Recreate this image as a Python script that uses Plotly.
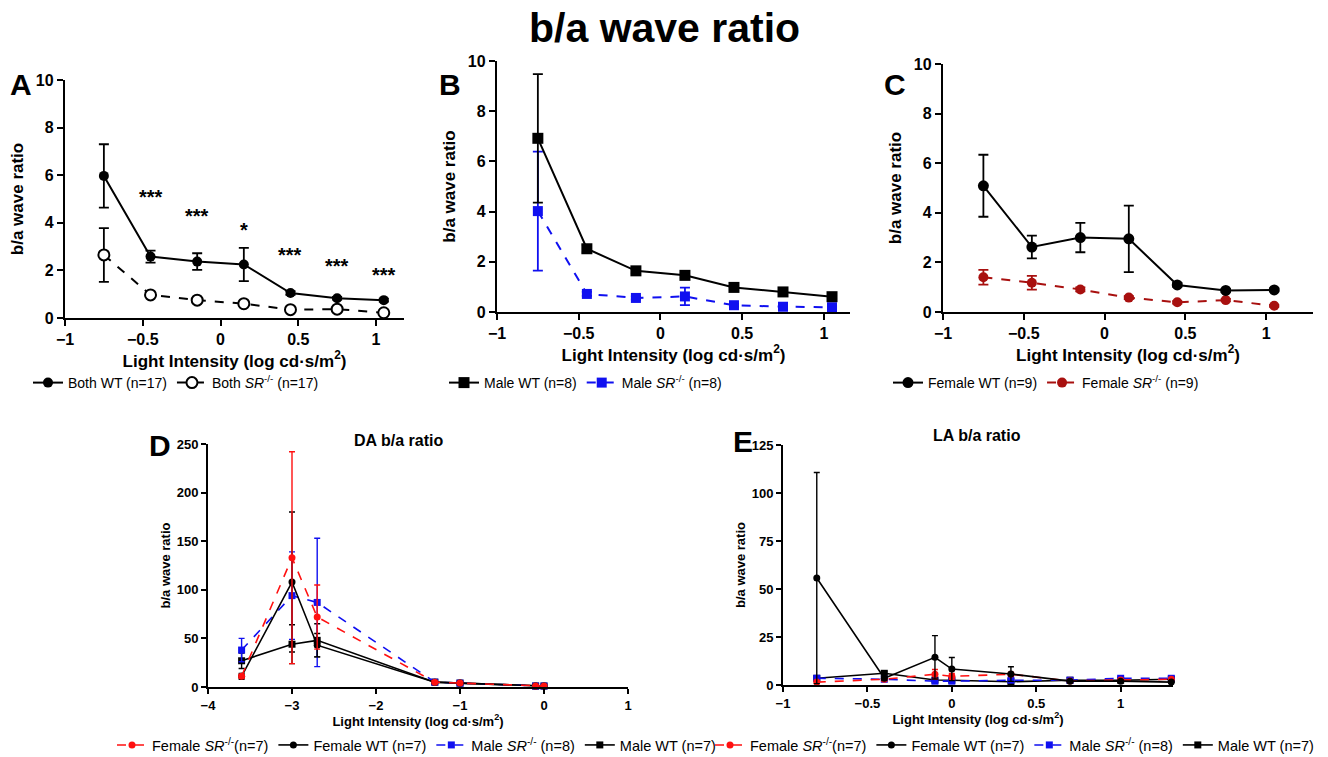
import plotly.graph_objects as go

W, H = 1328, 757
FONT = "Liberation Sans, Arial, sans-serif"

# ---------------- data ----------------
x_abc = [-0.75, -0.45, -0.15, 0.15, 0.45, 0.75, 1.05]

a_wt = [5.97, 2.58, 2.37, 2.25, 1.05, 0.83, 0.75]
a_wt_err = [1.33, 0.25, 0.35, 0.70, 0.08, 0.06, 0.06]
a_sr = [2.65, 0.97, 0.75, 0.60, 0.35, 0.37, 0.22]
a_sr_err = [1.13, 0.08, 0.06, 0.05, 0.05, 0.05, 0.04]
star_x = [-0.45, -0.15, 0.15, 0.45, 0.75, 1.05]
star_y = [5.1, 4.3, 3.7, 2.65, 2.2, 1.8]
star_txt = ["***", "***", "*", "***", "***", "***"]

b_wt = [6.92, 2.52, 1.64, 1.46, 0.98, 0.80, 0.61]
b_wt_err = [2.56, 0.15, 0.10, 0.10, 0.08, 0.07, 0.06]
b_sr = [4.02, 0.72, 0.56, 0.62, 0.27, 0.21, 0.19]
b_sr_err = [2.37, 0.08, 0.06, 0.35, 0.05, 0.04, 0.04]

c_wt = [5.09, 2.62, 3.00, 2.95, 1.09, 0.87, 0.89]
c_wt_err = [1.25, 0.46, 0.59, 1.34, 0.08, 0.06, 0.06]
c_sr = [1.40, 1.18, 0.91, 0.58, 0.39, 0.48, 0.25]
c_sr_err = [0.30, 0.28, 0.08, 0.06, 0.05, 0.05, 0.04]

x_d = [-3.6, -3.0, -2.7, -1.3, -1.0, -0.1, 0.0]
d_fsr = [11, 133, 72, 5, 4, 1, 1]
d_fsr_err = [2, 109, 33, 1, 1, 0.3, 0.3]
d_fwt = [11, 108, 43, 5, 4, 1, 1]
d_fwt_err = [3, 72, 12, 1, 1, 0.3, 0.3]
d_msr = [38, 94, 87, 5, 4, 1, 1]
d_msr_err = [12, 45, 66, 1, 1, 0.3, 0.3]
d_mwt = [27, 44, 48, 5, 4, 1, 1]
d_mwt_err = [8, 20, 17, 1, 1, 0.3, 0.3]

x_e = [-0.8, -0.4, -0.1, 0.0, 0.35, 0.7, 1.0, 1.3]
e_fsr = [1.5, 3.0, 5.6, 4.5, 5.6, 2.1, 2.6, 3.0]
e_fsr_err = [0.5, 1.0, 2.5, 1.5, 1.0, 0.5, 0.5, 0.5]
e_fwt = [55.7, 3.5, 14.4, 8.3, 5.7, 2.0, 2.0, 1.5]
e_fwt_err = [55.0, 1.0, 11.3, 6.0, 3.8, 0.5, 0.5, 0.5]
e_msr = [3.5, 3.0, 2.0, 2.0, 2.5, 2.5, 3.5, 3.5]
e_msr_err = [0.5, 0.5, 0.5, 0.5, 0.5, 0.5, 0.5, 0.5]
e_mwt = [3.5, 6.1, 2.6, 2.5, 1.7, 2.5, 2.5, 3.0]
e_mwt_err = [0.5, 1.0, 0.5, 0.5, 0.5, 0.5, 0.5, 0.5]

SR = "<i>SR</i><sup>-/-</sup>"
BLUE = "#1010f0"
RED = "#ff1010"
DRED = "#a8100f"

fig = go.Figure()


def add(x, y, err, name, color, symbol, dash, xa, ya, leg, rank, size, lw,
        open_=False, ew=1.8, cw=4):
    fig.add_trace(go.Scatter(
        x=x, y=y, name=name, mode="lines+markers",
        xaxis=xa, yaxis=ya, legend=leg, legendrank=rank,
        line=dict(color=color, width=lw, dash=dash),
        marker=dict(symbol=symbol, size=size, color="white" if open_ else color,
                    line=dict(color=color, width=2 if open_ else 0)),
        error_y=dict(type="data", array=err, visible=True, color=color,
                     thickness=ew, width=cw),
        cliponaxis=False,
    ))


# Panel A
add(x_abc, a_sr, a_sr_err, "Both " + SR + " (n=17)", "black", "circle", "dash", "x", "y", "legend", 2, 11, 2, open_=True, cw=5)
add(x_abc, a_wt, a_wt_err, "Both WT (n=17)", "black", "circle", "solid", "x", "y", "legend", 1, 10, 2, cw=5)
# Panel B
add(x_abc, b_sr, b_sr_err, "Male " + SR + " (n=8)", BLUE, "square", "dash", "x2", "y2", "legend2", 2, 10, 2, cw=5)
add(x_abc, b_wt, b_wt_err, "Male WT (n=8)", "black", "square", "solid", "x2", "y2", "legend2", 1, 11, 2, cw=5)
# Panel C
add(x_abc, c_sr, c_sr_err, "Female " + SR + " (n=9)", DRED, "circle", "dash", "x3", "y3", "legend3", 2, 10, 2, cw=5)
add(x_abc, c_wt, c_wt_err, "Female WT (n=9)", "black", "circle", "solid", "x3", "y3", "legend3", 1, 11, 2, cw=5)
# Panel D
add(x_d, d_mwt, d_mwt_err, "Male WT (n=7)", "black", "square", "solid", "x4", "y4", "legend4", 4, 7, 1.6, ew=1.4, cw=3)
add(x_d, d_msr, d_msr_err, "Male " + SR + " (n=8)", BLUE, "square", "dash", "x4", "y4", "legend4", 3, 7, 1.6, ew=1.4, cw=3)
add(x_d, d_fwt, d_fwt_err, "Female WT (n=7)", "black", "circle", "solid", "x4", "y4", "legend4", 2, 7, 1.6, ew=1.4, cw=3)
add(x_d, d_fsr, d_fsr_err, "Female " + SR + "(n=7)", RED, "circle", "dash", "x4", "y4", "legend4", 1, 7, 1.6, ew=1.4, cw=3)
# Panel E
add(x_e, e_mwt, e_mwt_err, "Male WT (n=7)", "black", "square", "solid", "x5", "y5", "legend5", 4, 7, 1.6, ew=1.4, cw=3)
add(x_e, e_msr, e_msr_err, "Male " + SR + " (n=8)", BLUE, "square", "dash", "x5", "y5", "legend5", 3, 7, 1.6, ew=1.4, cw=3)
add(x_e, e_fsr, e_fsr_err, "Female " + SR + "(n=7)", RED, "circle", "dash", "x5", "y5", "legend5", 1, 7, 1.6, ew=1.4, cw=3)
add(x_e, e_fwt, e_fwt_err, "Female WT (n=7)", "black", "circle", "solid", "x5", "y5", "legend5", 2, 7, 1.6, ew=1.4, cw=3)


def dx(p0, p1):
    return [p0 / W, p1 / W]


def dy(top, bottom):
    return [(H - bottom) / H, (H - top) / H]


XT = "Light Intensity (log cd·s/m<sup>2</sup>)"
YT = "b/a wave ratio"


def axes(big):
    tf = dict(family=FONT, size=16 if big else 13, color="black", weight="bold")
    ttf = dict(family=FONT, size=17 if big else 13, color="black", weight="bold")
    common = dict(showline=True, linecolor="black", linewidth=2.4 if big else 1.8,
                  ticks="outside", tickwidth=2.4 if big else 1.8, ticklen=6 if big else 5,
                  tickcolor="black", showgrid=False, zeroline=False, tickfont=tf,
                  automargin=False)
    return common, ttf


big, bigt = axes(True)
small, smallt = axes(False)

lay = dict(
    width=W, height=H, margin=dict(l=0, r=0, t=0, b=0, autoexpand=False),
    paper_bgcolor="white", plot_bgcolor="white",
    font=dict(family=FONT, color="black"),
    xaxis=dict(domain=dx(65, 404), range=[-1, 1.18], dtick=0.5, anchor="y",
               title=dict(text=XT, font=bigt, standoff=3), **big),
    yaxis=dict(domain=dy(80, 318), range=[0, 10], dtick=2, anchor="x",
               title=dict(text=YT, font=bigt, standoff=8), **big),
    xaxis2=dict(domain=dx(497, 850), range=[-1, 1.16], dtick=0.5, anchor="y2",
                title=dict(text=XT, font=bigt, standoff=3), **big),
    yaxis2=dict(domain=dy(61, 312), range=[0, 10], dtick=2, anchor="x2",
                title=dict(text=YT, font=bigt, standoff=8), **big),
    xaxis3=dict(domain=dx(943, 1313), range=[-1, 1.29], dtick=0.5, anchor="y3",
                title=dict(text=XT, font=bigt, standoff=3), **big),
    yaxis3=dict(domain=dy(64, 312), range=[0, 10], dtick=2, anchor="x3",
                title=dict(text=YT, font=bigt, standoff=8), **big),
    xaxis4=dict(domain=dx(208, 628), range=[-4, 1], dtick=1, anchor="y4",
                title=dict(text=XT, font=smallt, standoff=2), **small),
    yaxis4=dict(domain=dy(444, 687), range=[0, 250], dtick=50, anchor="x4",
                title=dict(text=YT, font=smallt, standoff=3), **small),
    xaxis5=dict(domain=dx(783, 1173), range=[-1, 1.31], dtick=0.5, anchor="y5",
                title=dict(text=XT, font=smallt, standoff=2), **small),
    yaxis5=dict(domain=dy(445, 685), range=[0, 125], dtick=25, anchor="x5",
                title=dict(text=YT, font=smallt, standoff=3), **small),
)

for key, x0, y0, fs in [("legend", 28, 367, 14), ("legend2", 444, 367, 14),
                        ("legend3", 888, 367, 14),
                        ("legend4", 112, 729, 14.5), ("legend5", 710, 729, 14.5)]:
    lay[key] = dict(x=x0 / W, y=(H - y0) / H, xanchor="left", yanchor="top",
                    orientation="h", font=dict(family=FONT, size=fs, color="black"),
                    bgcolor="rgba(0,0,0,0)", traceorder="normal", itemwidth=30,
                    tracegroupgap=0)

fig.update_layout(**lay)

# title and panel letters
ann = [
    dict(text="<b>b/a wave ratio</b>", x=664 / W, y=(H - 28) / H, size=41),
    dict(text="<b>A</b>", x=21 / W, y=(H - 84) / H, size=30),
    dict(text="<b>B</b>", x=450 / W, y=(H - 84) / H, size=30),
    dict(text="<b>C</b>", x=895 / W, y=(H - 84) / H, size=30),
    dict(text="<b>D</b>", x=160 / W, y=(H - 445) / H, size=30),
    dict(text="<b>E</b>", x=743 / W, y=(H - 441) / H, size=30),
    dict(text="<b>DA b/a ratio</b>", x=398 / W, y=(H - 440) / H, size=16),
    dict(text="<b>LA b/a ratio</b>", x=977 / W, y=(H - 436) / H, size=16),
]
for a in ann:
    fig.add_annotation(text=a["text"], x=a["x"], y=a["y"], xref="paper", yref="paper",
                       showarrow=False, xanchor="center", yanchor="middle",
                       font=dict(family=FONT, size=a["size"], color="black"))

for sx, sy, st in zip(star_x, star_y, star_txt):
    fig.add_annotation(text="<b>" + st + "</b>", x=sx, y=sy, xref="x", yref="y",
                       showarrow=False, font=dict(family=FONT, size=20, color="black"))

fig.write_html("out.html", config={"displayModeBar": False},
               post_script="document.body.style.margin='0';")
